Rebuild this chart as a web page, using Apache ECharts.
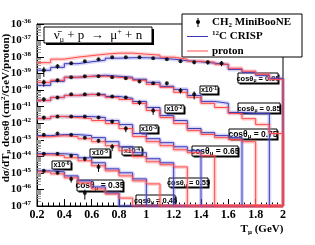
<!DOCTYPE html>
<html><head><meta charset="utf-8">
<script src="https://cdn.jsdelivr.net/npm/echarts@6/dist/echarts.min.js"></script>
<style>html,body{margin:0;padding:0;background:#fff}#c{width:315px;height:245px}</style>
</head><body><div id="c"></div>
<script>
// ---- data (unscaled cross sections in units of 1e-39 cm^2/GeV/proton) ----
const binEdges = [0.2,0.3,0.4,0.5,0.6,0.7,0.8,0.9,1.0,1.1,1.2,1.3,1.4,1.5,1.6,1.7,1.8,1.9,2.0];
const pointT   = [0.25,0.35,0.45,0.55,0.65,0.75,0.85,0.95,1.05,1.15,1.25,1.35,1.45,1.55];
const cosLabels = ['0.95','0.85','0.75','0.65','0.55','0.45','0.35'];
const scaleFactors = [1,1e-1,1e-2,1e-3,1e-4,1e-5,1e-6];
const UNIT = 1e-39;
const yTickExponents = [-47,-46,-45,-44,-43,-42,-41,-40,-39,-38,-37,-36];
const xTicks = [0.2,0.4,0.6,0.8,1,1.2,1.4,1.6,1.8,2];

// 12C CRISP (blue)
const crisp_095 = [1.6,2.4,4.0,5.2,6.5,8.6,9.2,9.2,8.6,7.5,6.0,5.2,4.3,3.5,1.8,1.2,0.79,0.52];
const crisp_085 = [1.96,3.43,6.0,6.9,7.94,6.9,6.0,4.54,2.98,1.7,1.12,0.48,0.21,0.16,0.045,0.039,0.039,0];
const crisp_075 = [2.4,3.65,4.83,5.56,5.56,4.2,3.18,2.08,0.9,0.29,0.146,0.048,0.027,0.018,0.0135,0,0,0];
const crisp_065 = [1.93,2.55,2.55,2.55,2.22,1.46,0.83,0.24,0.117,0.067,0.038,0.022,0,0,0,0,0,0];
const crisp_055 = [1.79,2.06,2.06,1.79,1.35,0.77,0.38,0.166,0.072,0.041,0,0,0,0,0,0,0,0];
const crisp_045 = [1.44,1.44,1.25,0.82,0.41,0.176,0.101,0.0435,0,0,0,0,0,0,0,0,0,0];
const crisp_035 = [1.33,1.16,0.66,0.33,0.142,0.061,0,0,0,0,0,0,0,0,0,0,0,0];
// proton (red)
const proton_095 = [4.6,7.5,9.9,12.2,15,17.3,17.3,15,13.1,9.9,7.5,5.6,4.9,3.7,2.1,1.4,0.91,0.45];
const proton_085 = [2.98,3.94,6.0,6.9,6.9,6.0,5.21,3.94,2.25,1.48,0.74,0.37,0.16,0.09,0.039,0.019,0.0083,0.0024];
const proton_075 = [2.4,3.65,4.83,5.56,4.83,3.65,2.76,1.58,0.59,0.22,0.096,0.036,0.021,0.0135,0.0102,0.0077,0,0];
const proton_065 = [1.93,2.55,2.22,1.93,1.46,0.96,0.48,0.156,0.077,0.044,0.025,0.0166,0.0109,0,0,0,0,0];
const proton_055 = [1.55,1.79,1.55,1.17,0.77,0.44,0.22,0.095,0.047,0.031,0.023,0,0,0,0,0,0,0];
const proton_045 = [1.25,1.09,0.82,0.54,0.27,0.133,0.066,0.033,0.0216,0,0,0,0,0,0,0,0,0];
const proton_035 = [1.16,0.875,0.5,0.248,0.107,0.053,0.030,0,0,0,0,0,0,0,0,0,0,0];
// CH2 MiniBooNE data points and relative errors
const mb_095 = [1.6,2.8,4.3,5.6,7.5,9.9,9.9,9.9,8.6,7.5,5.6,4.9,4.9,4.3];
const mb_085 = [2.98,3.94,6.0,6.9,6.9,6.0,5.2,3.4,2.6,2.6,0.97,0.56];
const mb_075 = [2.8,3.65,5.6,5.6,5.6,4.2,3.65,1.8,0.59];
const mb_065 = [2.2,2.55,2.55,2.55,2.2,1.27,0.48];
const mb_055 = [2.06,2.37,2.06,1.35,0.89,0.38];
const mb_045 = [1.44,1.44,1.09,0.72,0.23];
const mb_035 = [1.33,1.01,0.435,0.061];
const err_095 = [0.6,0.3,0.2,0.15,0.12,0.12,0.12,0.12,0.15,0.15,0.2,0.25,0.3,0.35];
const err_085 = [0.45,0.25,0.15,0.12,0.12,0.12,0.15,0.15,0.2,0.25,0.35,0.5];
const err_075 = [0.3,0.2,0.15,0.12,0.12,0.15,0.2,0.3,0.45];
const err_065 = [0.25,0.15,0.12,0.12,0.15,0.25,0.4];
const err_055 = [0.2,0.15,0.12,0.15,0.25,0.45];
const err_045 = [0.2,0.15,0.2,0.3,0.5];
const err_035 = [0.2,0.2,0.4,0.6];

const crisp = [crisp_095,crisp_085,crisp_075,crisp_065,crisp_055,crisp_045,crisp_035];
const proton = [proton_095,proton_085,proton_075,proton_065,proton_055,proton_045,proton_035];
const mb = [mb_095,mb_085,mb_075,mb_065,mb_055,mb_045,mb_035];
const mbErr = [err_095,err_085,err_075,err_065,err_055,err_045,err_035];

// the log axis works in units of 1e-47 (avoids float rounding with tiny numbers)
const AXIS_EXP = yTickExponents[0];
const AXIS_UNIT = Math.pow(10, AXIS_EXP);
const Y_MIN = 1, Y_MAX = Math.pow(10, yTickExponents[yTickExponents.length-1] - AXIS_EXP);
const toAxis = (v, k) => v * (UNIT / AXIS_UNIT) * scaleFactors[k];

const BLUE = '#3a3ab4', BLUE_BAND = 'rgba(120,120,235,0.3)';
const RED = '#ff4a4a', RED_BAND = 'rgba(255,120,120,0.3)';
const SERIF = '"Liberation Serif","DejaVu Serif",serif';
const SANS = '"Liberation Sans",Arial,sans-serif';

function stepPoints(vals, k) {
  const pts = [];
  for (let i = 0; i < vals.length; i++) {
    const v = vals[i] > 0 ? toAxis(vals[i], k) : Y_MIN;
    pts.push([binEdges[i], v], [binEdges[i + 1], v]);
  }
  pts.push([binEdges[binEdges.length - 1], Y_MIN]);
  return pts;
}

const series = [];
[[crisp, BLUE, BLUE_BAND], [proton, RED, RED_BAND]].forEach(([set, col, band]) => {
  set.forEach((vals, k) => {
    const pts = stepPoints(vals, k);
    series.push({type:'line', data:pts, showSymbol:false, silent:true, z:2,
      lineStyle:{color:band, width:4}});
    series.push({type:'line', data:pts, showSymbol:false, silent:true, z:3,
      lineStyle:{color:col, width:1}});
  });
});
const pts = [], bars = [];
mb.forEach((vals, k) => {
  vals.forEach((v, i) => {
    const y = toAxis(v, k);
    const e = mbErr[k][i];
    pts.push([pointT[i], y]);
    bars.push([pointT[i], y * (1 - e), y * (1 + e)]);
  });
});
series.push({type:'custom', z:5, data:bars, renderItem:(p, api) => {
  const a = api.coord([api.value(0), api.value(1)]);
  const b = api.coord([api.value(0), api.value(2)]);
  return {type:'line', shape:{x1:a[0], y1:a[1], x2:b[0], y2:b[1]}, style:{stroke:'#000', lineWidth:1}};
}});
series.push({type:'scatter', z:6, data:pts, symbol:'circle', symbolSize:4, itemStyle:{color:'#000'}});

function box(x, y, w, h, text, rich, sh) {
  return {type:'group', children:[
    {type:'rect', shape:{x:x+sh, y:y+sh, width:w, height:h}, style:{fill:'#000'}},
    {type:'rect', shape:{x:x, y:y, width:w, height:h}, style:{fill:'#fff', stroke:'#000', lineWidth:1}},
    {type:'text', x:x+w/2, y:y+h/2+0.5, style:{text:text, rich:rich, align:'center', verticalAlign:'middle'}}
  ]};
}
function cosRich(fs) {
  return {t:{fontFamily:SANS, fontWeight:'bold', fontSize:fs, lineHeight:fs+2},
          s:{fontFamily:SANS, fontWeight:'bold', fontSize:fs-2.5, verticalAlign:'bottom', lineHeight:fs+2}};
}
function cosText(c) { return '{t|cosθ}{s|μ}{t| = ' + c + '}'; }
const scRich = {t:{fontFamily:SANS, fontWeight:'bold', fontSize:7, lineHeight:8},
                s:{fontFamily:SANS, fontWeight:'bold', fontSize:5, verticalAlign:'top', lineHeight:8}};
function scText(e) { return '{t|x10}{s|' + e + '}'; }

const graphic = [
  box(44, 27, 108, 16, '{t|ν̄}{s|μ}{t| + p  →  μ}{u|+}{t| + n}', {
    t:{fontFamily:SERIF, fontSize:13, lineHeight:16},
    s:{fontFamily:SERIF, fontSize:8, verticalAlign:'bottom', lineHeight:16},
    u:{fontFamily:SERIF, fontSize:8, verticalAlign:'top', lineHeight:16}}, 2),
  {type:'rect', shape:{x:182, y:14, width:120, height:43}, style:{fill:'#fff', stroke:'#000', lineWidth:1}},
  {type:'line', shape:{x1:198, y1:18, x2:198, y2:27}, style:{stroke:'#000', lineWidth:1}},
  {type:'circle', shape:{cx:198, cy:22, r:2}, style:{fill:'#000'}},
  {type:'line', shape:{x1:187, y1:36.5, x2:208, y2:36.5}, style:{stroke:BLUE, lineWidth:1}},
  {type:'line', shape:{x1:187, y1:51, x2:208, y2:51}, style:{stroke:RED, lineWidth:1}},
  {type:'text', x:212, y:22, style:{text:'{t|CH}{s|2}{t| MiniBooNE}', verticalAlign:'middle', rich:{
    t:{fontFamily:SERIF, fontWeight:'bold', fontSize:11, lineHeight:13},
    s:{fontFamily:SERIF, fontWeight:'bold', fontSize:7, verticalAlign:'bottom', lineHeight:13}}}},
  {type:'text', x:212, y:36.5, style:{text:'{s|12}{t|C CRISP}', verticalAlign:'middle', rich:{
    t:{fontFamily:SERIF, fontWeight:'bold', fontSize:11, lineHeight:13},
    s:{fontFamily:SERIF, fontWeight:'bold', fontSize:7, verticalAlign:'top', lineHeight:13}}}},
  {type:'text', x:212, y:51, style:{text:'proton', verticalAlign:'middle',
    fontFamily:SERIF, fontWeight:'bold', fontSize:11}},
  {type:'text', x:6, y:108, rotation:Math.PI/2, style:{
    text:'{t|dσ/dT}{s|μ}{t| dcosθ (cm}{u|2}{t|/GeV/proton)}', align:'center', verticalAlign:'middle', rich:{
    t:{fontFamily:SERIF, fontWeight:'bold', fontSize:11, lineHeight:12},
    s:{fontFamily:SERIF, fontWeight:'bold', fontSize:7, verticalAlign:'bottom', lineHeight:12},
    u:{fontFamily:SERIF, fontWeight:'bold', fontSize:7, verticalAlign:'top', lineHeight:12}}}},
  {type:'text', x:262, y:229, style:{text:'{t|T}{s|μ}{t| (GeV)}', align:'center', verticalAlign:'middle', rich:{
    t:{fontFamily:SERIF, fontWeight:'bold', fontSize:11, lineHeight:13},
    s:{fontFamily:SERIF, fontWeight:'bold', fontSize:7, verticalAlign:'bottom', lineHeight:13}}}},
  box(238, 73, 40, 10, cosText('0.95'), cosRich(7.5), 1.5),
  box(238, 103, 42, 10, cosText('0.85'), cosRich(7.5), 1.5),
  box(229, 129, 48, 10, cosText('0.75'), cosRich(8.5), 1.5),
  box(192, 146, 46, 10, cosText('0.65'), cosRich(8.5), 1.5),
  box(169, 178, 39, 9, cosText('0.55'), cosRich(7.5), 1.5),
  box(136, 195, 39, 10, cosText('0.45'), cosRich(7.5), 1.5),
  box(77, 180, 46, 11, cosText('0.35'), cosRich(8.5), 1.5),
  box(200, 86, 18, 8, scText('-1'), scRich, 1.5),
  box(165, 105, 19, 8, scText('-2'), scRich, 1.5),
  box(140, 125, 18, 8, scText('-3'), scRich, 1.5),
  box(122, 147, 20, 8, scText('-4'), scRich, 1.5),
  box(90, 149, 20, 8, scText('-5'), scRich, 1.5),
  box(52, 161, 19, 8, scText('-6'), scRich, 1.5)
];

const chart = echarts.init(document.getElementById('c'), null, {renderer:'canvas'});
chart.setOption({
  animation:false,
  backgroundColor:'#fff',
  grid:{left:37, right:32, top:24, bottom:39, show:true, borderColor:'#000', borderWidth:1},
  xAxis:{type:'value', min:xTicks[0], max:xTicks[xTicks.length-1], interval:0.2,
    axisLine:{show:true, onZero:false, lineStyle:{color:'#000'}},
    axisTick:{show:true, inside:true, length:7, lineStyle:{color:'#000'}},
    minorTick:{show:true, splitNumber:5, length:3.5, lineStyle:{color:'#000'}},
    splitLine:{show:false},
    axisLabel:{margin:3, color:'#000', fontFamily:SERIF, fontWeight:'bold', fontSize:12,
      formatter:v => String(+v.toFixed(1))}},
  yAxis:{type:'log', logBase:10, min:Y_MIN, max:Y_MAX, interval:1,
    axisLine:{show:true, lineStyle:{color:'#000'}},
    axisTick:{show:true, inside:true, length:7, lineStyle:{color:'#000'}},
    minorTick:{show:true, splitNumber:9, length:4, lineStyle:{color:'#999'}},
    splitLine:{show:false},
    axisLabel:{margin:6, color:'#000', showMinLabel:true, showMaxLabel:true, interval:0,
      formatter:v => '{b|10}{e|' + (Math.round(Math.log10(v)) + AXIS_EXP) + '}',
      rich:{b:{fontFamily:SERIF, fontWeight:'bold', fontSize:11, lineHeight:13},
            e:{fontFamily:SERIF, fontWeight:'bold', fontSize:7, verticalAlign:'top', lineHeight:13}}}},
  series:series,
  graphic:graphic
});
</script></body></html>
